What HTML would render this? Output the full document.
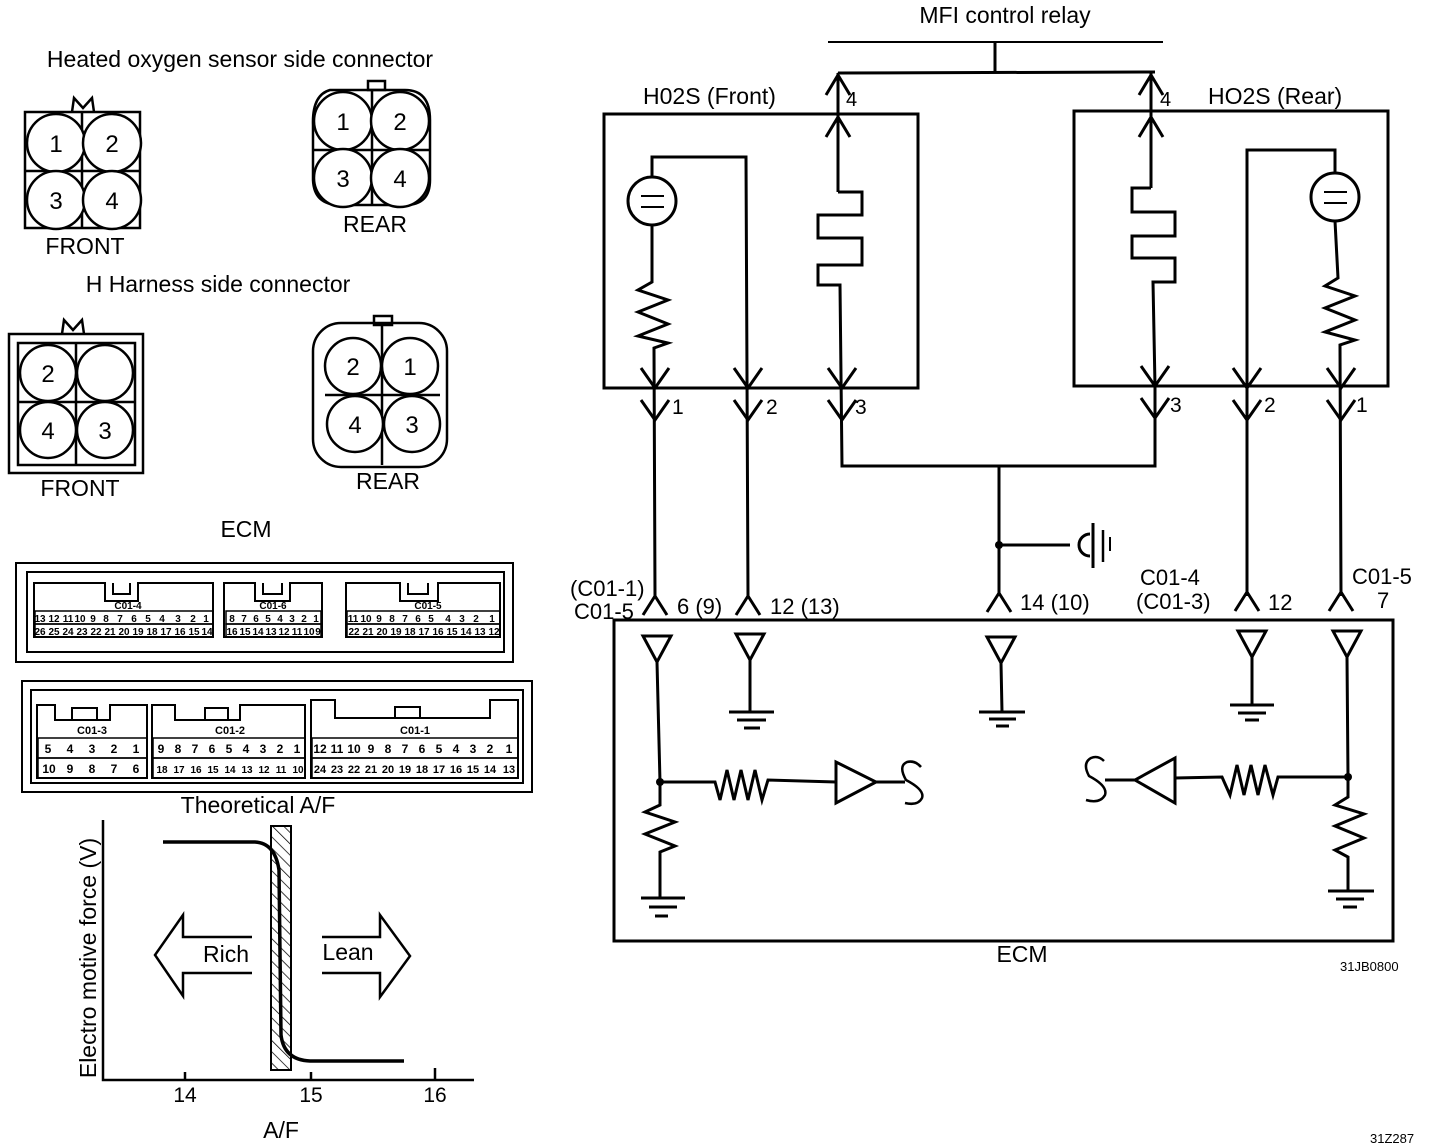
<!DOCTYPE html>
<html><head><meta charset="utf-8"><style>
html,body{margin:0;padding:0;background:#fff}
svg{display:block}
text{font-family:"Liberation Sans",Arial,sans-serif;fill:#000}
</style></head><body>
<svg width="1440" height="1144" viewBox="0 0 1440 1144" xmlns="http://www.w3.org/2000/svg">
<defs>
<pattern id="hatch" width="8" height="8" patternUnits="userSpaceOnUse" patternTransform="rotate(-45)">
<line x1="0" y1="0" x2="0" y2="8" stroke="#000" stroke-width="1.5"/></pattern>
</defs>
<g fill="none" stroke="#000" stroke-width="2.5">
<rect x="25" y="112" width="115" height="116"/>
<line x1="82" y1="112" x2="82" y2="228"/><line x1="25" y1="171" x2="140" y2="171"/>
<circle cx="56" cy="143" r="29" fill="#fff"/><circle cx="112" cy="143" r="29" fill="#fff"/>
<circle cx="56" cy="200" r="29" fill="#fff"/><circle cx="112" cy="200" r="29" fill="#fff"/>
<path d="M72 112 L74 98 L83 108 L92 98 L94 112"/>
<path d="M330 90 Q312 95 313 125 L313 180 Q314 205 340 205 L405 205 Q430 205 430 180 L430 120 Q430 90 405 90 Z"/>
<rect x="368" y="81" width="17" height="9"/>
<line x1="372" y1="90" x2="372" y2="205"/><line x1="313" y1="150" x2="430" y2="150"/>
<circle cx="343" cy="121" r="29" fill="#fff"/><circle cx="400" cy="121" r="29" fill="#fff"/>
<circle cx="343" cy="178" r="29" fill="#fff"/><circle cx="400" cy="178" r="29" fill="#fff"/>
<rect x="9" y="334" width="134" height="139"/>
<rect x="18" y="343" width="117" height="122"/>
<line x1="76" y1="343" x2="76" y2="465"/><line x1="18" y1="402" x2="135" y2="402"/>
<circle cx="48" cy="373" r="28" fill="#fff"/><circle cx="105" cy="373" r="28" fill="#fff"/>
<circle cx="48" cy="430" r="28" fill="#fff"/><circle cx="105" cy="430" r="28" fill="#fff"/>
<path d="M62 334 L64 320 L73 330 L82 320 L84 334"/>
<rect x="313" y="323" width="134" height="144" rx="28"/>
<rect x="374" y="316" width="18" height="9"/>
<line x1="382" y1="325" x2="382" y2="465"/><line x1="325" y1="395" x2="440" y2="395"/>
<circle cx="353" cy="366" r="28" fill="#fff"/><circle cx="410" cy="366" r="28" fill="#fff"/>
<circle cx="355" cy="424" r="28" fill="#fff"/><circle cx="412" cy="424" r="28" fill="#fff"/>
</g>
<g font-size="23">
<text x="240" y="67" text-anchor="middle">Heated oxygen sensor side connector</text>
<text x="56" y="152" text-anchor="middle" font-size="24">1</text><text x="112" y="152" text-anchor="middle" font-size="24">2</text>
<text x="56" y="209" text-anchor="middle" font-size="24">3</text><text x="112" y="209" text-anchor="middle" font-size="24">4</text>
<text x="85" y="254" text-anchor="middle">FRONT</text>
<text x="343" y="130" text-anchor="middle" font-size="24">1</text><text x="400" y="130" text-anchor="middle" font-size="24">2</text>
<text x="343" y="187" text-anchor="middle" font-size="24">3</text><text x="400" y="187" text-anchor="middle" font-size="24">4</text>
<text x="375" y="232" text-anchor="middle">REAR</text>
<text x="218" y="292" text-anchor="middle">H Harness side connector</text>
<text x="48" y="382" text-anchor="middle" font-size="24">2</text>
<text x="48" y="439" text-anchor="middle" font-size="24">4</text><text x="105" y="439" text-anchor="middle" font-size="24">3</text>
<text x="80" y="496" text-anchor="middle">FRONT</text>
<text x="353" y="375" text-anchor="middle" font-size="24">2</text><text x="410" y="375" text-anchor="middle" font-size="24">1</text>
<text x="355" y="433" text-anchor="middle" font-size="24">4</text><text x="412" y="433" text-anchor="middle" font-size="24">3</text>
<text x="388" y="489" text-anchor="middle">REAR</text>
<text x="246" y="537" text-anchor="middle">ECM</text>
</g>
<g fill="none" stroke="#000" stroke-width="2">
<rect x="16" y="563" width="497" height="99"/><rect x="27" y="572" width="477" height="80"/>
<path d="M34 637 L34 583 L105 583 L105 601 L138 601 L138 583 L213 583 L213 637 Z"/>
<path d="M113 583 L113 594 L130 594 L130 583"/>
<path d="M224 637 L224 583 L255 583 L255 601 L290 601 L290 583 L322 583 L322 637 Z"/>
<path d="M263 583 L263 594 L282 594 L282 583"/>
<path d="M346 637 L346 583 L400 583 L400 601 L438 601 L438 583 L500 583 L500 637 Z"/>
<path d="M408 583 L408 594 L428 594 L428 583"/>
<rect x="22" y="681" width="510" height="111"/><rect x="31" y="690" width="492" height="93"/>
<path d="M37 778 L37 705 L55 705 L55 720 L110 720 L110 705 L147 705 L147 778 Z"/>
<path d="M72 720 L72 708 L97 708 L97 720"/>
<path d="M152 778 L152 705 L175 705 L175 720 L240 720 L240 705 L305 705 L305 778 Z"/>
<path d="M205 720 L205 708 L228 708 L228 720"/>
<path d="M311 778 L311 700 L335 700 L335 718 L490 718 L490 700 L518 700 L518 778 Z"/>
<path d="M395 718 L395 707 L420 707 L420 718"/>
</g>
<g stroke="#000" stroke-width="1.5" fill="none">
<rect x="35" y="611" width="178" height="13"/><rect x="35" y="624" width="178" height="13"/>
<rect x="226" y="611" width="95" height="13"/><rect x="226" y="624" width="95" height="13"/>
<rect x="347" y="611" width="153" height="13"/><rect x="347" y="624" width="153" height="13"/>
<rect x="38" y="738" width="109" height="20"/><rect x="38" y="758" width="109" height="20"/>
<rect x="153" y="738" width="152" height="20"/><rect x="153" y="758" width="152" height="20"/>
<rect x="312" y="738" width="206" height="20"/><rect x="312" y="758" width="206" height="20"/>
</g>
<g font-size="10" font-weight="bold" text-anchor="middle">
<text x="128" y="609">C01-4</text><text x="273" y="609">C01-6</text><text x="428" y="609">C01-5</text>
<text x="92" y="734" font-size="11">C01-3</text><text x="230" y="734" font-size="11">C01-2</text><text x="415" y="734" font-size="11">C01-1</text>
</g>
<g font-size="10" text-anchor="middle" font-weight="bold">
<text x="40" y="622">13</text><text x="54" y="622">12</text><text x="68" y="622">11</text><text x="80" y="622">10</text><text x="93" y="622">9</text><text x="106" y="622">8</text><text x="120" y="622">7</text><text x="134" y="622">6</text><text x="148" y="622">5</text><text x="162" y="622">4</text><text x="178" y="622">3</text><text x="193" y="622">2</text><text x="206" y="622">1</text>
<text x="40" y="635">26</text><text x="54" y="635">25</text><text x="68" y="635">24</text><text x="82" y="635">23</text><text x="96" y="635">22</text><text x="110" y="635">21</text><text x="124" y="635">20</text><text x="138" y="635">19</text><text x="152" y="635">18</text><text x="166" y="635">17</text><text x="180" y="635">16</text><text x="194" y="635">15</text><text x="207" y="635">14</text>
<text x="232" y="622">8</text><text x="244" y="622">7</text><text x="256" y="622">6</text><text x="268" y="622">5</text><text x="280" y="622">4</text><text x="292" y="622">3</text><text x="304" y="622">2</text><text x="316" y="622">1</text>
<text x="232" y="635">16</text><text x="245" y="635">15</text><text x="258" y="635">14</text><text x="271" y="635">13</text><text x="284" y="635">12</text><text x="297" y="635">11</text><text x="309" y="635">10</text><text x="318" y="635">9</text>
<text x="353" y="622">11</text><text x="366" y="622">10</text><text x="379" y="622">9</text><text x="392" y="622">8</text><text x="405" y="622">7</text><text x="418" y="622">6</text><text x="431" y="622">5</text><text x="448" y="622">4</text><text x="462" y="622">3</text><text x="476" y="622">2</text><text x="492" y="622">1</text>
<text x="354" y="635">22</text><text x="368" y="635">21</text><text x="382" y="635">20</text><text x="396" y="635">19</text><text x="410" y="635">18</text><text x="424" y="635">17</text><text x="438" y="635">16</text><text x="452" y="635">15</text><text x="466" y="635">14</text><text x="480" y="635">13</text><text x="494" y="635">12</text>
</g>
<g font-size="12" text-anchor="middle" font-weight="bold">
<text x="48" y="753">5</text><text x="70" y="753">4</text><text x="92" y="753">3</text><text x="114" y="753">2</text><text x="136" y="753">1</text>
<text x="49" y="773">10</text><text x="70" y="773">9</text><text x="92" y="773">8</text><text x="114" y="773">7</text><text x="136" y="773">6</text>
<text x="161" y="753">9</text><text x="178" y="753">8</text><text x="195" y="753">7</text><text x="212" y="753">6</text><text x="229" y="753">5</text><text x="246" y="753">4</text><text x="263" y="753">3</text><text x="280" y="753">2</text><text x="297" y="753">1</text>
<text x="162" y="773" font-size="10">18</text><text x="179" y="773" font-size="10">17</text><text x="196" y="773" font-size="10">16</text><text x="213" y="773" font-size="10">15</text><text x="230" y="773" font-size="10">14</text><text x="247" y="773" font-size="10">13</text><text x="264" y="773" font-size="10">12</text><text x="281" y="773" font-size="10">11</text><text x="298" y="773" font-size="10">10</text>
<text x="320" y="753">12</text><text x="337" y="753">11</text><text x="354" y="753">10</text><text x="371" y="753">9</text><text x="388" y="753">8</text><text x="405" y="753">7</text><text x="422" y="753">6</text><text x="439" y="753">5</text><text x="456" y="753">4</text><text x="473" y="753">3</text><text x="490" y="753">2</text><text x="509" y="753">1</text>
<text x="320" y="773" font-size="11">24</text><text x="337" y="773" font-size="11">23</text><text x="354" y="773" font-size="11">22</text><text x="371" y="773" font-size="11">21</text><text x="388" y="773" font-size="11">20</text><text x="405" y="773" font-size="11">19</text><text x="422" y="773" font-size="11">18</text><text x="439" y="773" font-size="11">17</text><text x="456" y="773" font-size="11">16</text><text x="473" y="773" font-size="11">15</text><text x="490" y="773" font-size="11">14</text><text x="509" y="773" font-size="11">13</text>
</g>
<rect x="271" y="826" width="20" height="244" fill="url(#hatch)" stroke="#000" stroke-width="2"/>
<g fill="none" stroke="#000" stroke-width="2.5">
<path d="M103 820 L103 1080 L474 1080"/>
<line x1="185" y1="1072" x2="185" y2="1080"/><line x1="311" y1="1072" x2="311" y2="1080"/><line x1="435" y1="1068" x2="435" y2="1080"/>
<path d="M163 842 L255 842 Q275 843 279 870 L281 1035 Q284 1060 310 1061 L404 1061" stroke-width="3.5"/>
<path d="M252 937 L183 937 L183 915 L155 955 L183 996 L183 973 L252 973"/>
<path d="M322 937 L380 937 L380 915 L410 956 L380 997 L380 973 L322 973"/>
</g>
<g font-size="23">
<text x="258" y="813" text-anchor="middle">Theoretical A/F</text>
<text x="226" y="962" text-anchor="middle">Rich</text>
<text x="348" y="960" text-anchor="middle">Lean</text>
<text x="185" y="1102" text-anchor="middle" font-size="21">14</text><text x="311" y="1102" text-anchor="middle" font-size="21">15</text><text x="435" y="1102" text-anchor="middle" font-size="21">16</text>
<text x="281" y="1138" text-anchor="middle">A/F</text>
<text transform="translate(96,958) rotate(-90)" text-anchor="middle" font-size="23">Electro motive force (V)</text>
</g>
<g fill="none" stroke="#000" stroke-width="3">
<line x1="828" y1="42" x2="1163" y2="42" stroke-width="2"/>
<line x1="995" y1="42" x2="995" y2="72"/>
<line x1="838" y1="73" x2="1155" y2="72"/>
<rect x="604" y="114" width="314" height="274"/>
<rect x="1074" y="111" width="314" height="275"/>
<line x1="838" y1="73" x2="838" y2="192"/>
<path d="M826 95 L838 75 L850 95 M826 137 L838 117 L850 137"/>
<path d="M838 192 L862 192 L862 215 L818 215 L818 238 L862 238 L862 265 L818 265 L818 285 L840 285 L842 466 L1155 466 L1155 386"/>
<circle cx="652" cy="201" r="24"/>
<line x1="641" y1="196" x2="664" y2="196" stroke-width="2"/><line x1="641" y1="207" x2="664" y2="207" stroke-width="2"/>
<path d="M652 177 L652 157 L746 157 L748 596"/>
<path d="M652 225 L652 282 L638 290 L668 300 L638 312 L668 324 L638 336 L668 343 L654 348 L655 596"/>
<path d="M641 368 L655 388 L669 368 M641 400 L655 420 L669 400"/>
<path d="M734 368 L748 388 L762 368 M734 400 L748 420 L762 400"/>
<path d="M828 368 L842 388 L856 368 M828 400 L842 420 L856 400"/>
<line x1="1151" y1="72" x2="1151" y2="188"/>
<path d="M1139 95 L1151 75 L1163 95 M1139 137 L1151 117 L1163 137"/>
<path d="M1151 188 L1132 188 L1132 212 L1175 212 L1175 236 L1132 236 L1132 258 L1175 258 L1175 282 L1153 282 L1155 386"/>
<circle cx="1335" cy="197" r="24"/>
<line x1="1324" y1="192" x2="1347" y2="192" stroke-width="2"/><line x1="1324" y1="203" x2="1347" y2="203" stroke-width="2"/>
<path d="M1335 173 L1335 150 L1247 150 L1247 596"/>
<path d="M1335 221 L1338 278 L1325 286 L1355 296 L1325 308 L1355 320 L1325 332 L1355 340 L1340 345 L1341 596"/>
<path d="M1141 366 L1155 386 L1169 366 M1141 398 L1155 418 L1169 398"/>
<path d="M1233 368 L1247 388 L1261 368 M1233 400 L1247 420 L1261 400"/>
<path d="M1327 368 L1341 388 L1355 368 M1327 400 L1341 420 L1355 400"/>
<line x1="999" y1="466" x2="999" y2="596"/>
<line x1="999" y1="545" x2="1070" y2="545"/>
<path d="M1090 534 A11 11 0 1 0 1090 556"/>
<line x1="1093" y1="523" x2="1093" y2="568"/>
<line x1="1103" y1="530" x2="1103" y2="562" stroke-width="2.5"/>
<line x1="1110" y1="537" x2="1110" y2="551" stroke-width="2"/>
<path d="M643 615 L655 596 L667 615"/>
<path d="M736 615 L748 596 L760 615"/>
<path d="M987 612 L999 593 L1011 612"/>
<path d="M1235 611 L1247 592 L1259 611"/>
<path d="M1329 611 L1341 592 L1353 611"/>
<rect x="614" y="620" width="779" height="321"/>
<path d="M643 636 L671 636 L657 662 Z M657 662 L660 782"/>
<path d="M736 634 L764 634 L750 660 Z M750 660 L750 712 M729 712 L774 712 M737 720 L766 720 M744 728 L760 728"/>
<path d="M987 637 L1015 637 L1001 663 Z M1001 663 L1002 712 M979 712 L1025 712 M989 719 L1016 719 M996 726 L1009 726"/>
<path d="M1238 631 L1266 631 L1252 657 Z M1252 657 L1252 705 M1230 705 L1274 705 M1238 713 L1266 713 M1245 720 L1259 720"/>
<path d="M1333 631 L1361 631 L1347 657 Z M1347 657 L1348 777"/>
<path d="M660 782 L660 805 L645 812 L675 822 L645 834 L675 846 L660 852 L660 898 M641 898 L685 898 M649 907 L677 907 M655 916 L668 916"/>
<path d="M660 782 L715 782 L720 800 L727 770 L734 800 L741 770 L748 800 L755 770 L762 800 L768 780 L836 782"/>
<path d="M836 762 L836 803 L876 782 Z M876 782 L905 782"/>
<path d="M921 767 Q915 760 907 762 Q898 766 906 780 Q925 790 922 798 Q918 806 905 803" stroke-width="2.5"/>
<path d="M1348 777 L1348 797 L1335 805 L1364 814 L1335 826 L1364 838 L1335 850 L1348 857 L1348 890 M1328 891 L1374 891 M1336 899 L1364 899 M1343 907 L1357 907"/>
<path d="M1348 777 L1278 777 L1273 795 L1265 765 L1258 795 L1251 765 L1244 795 L1237 765 L1230 795 L1222 777 L1175 778"/>
<path d="M1175 758 L1175 803 L1135 780 Z M1135 780 L1105 780"/>
<path d="M1104 761 Q1098 755 1091 758 Q1082 763 1089 776 Q1108 786 1105 795 Q1100 804 1086 800" stroke-width="2.5"/>
</g>
<g fill="#000">
<circle cx="999" cy="545" r="4"/><circle cx="660" cy="782" r="4"/><circle cx="1348" cy="777" r="4"/>
</g>
<g font-size="23">
<text x="1005" y="23" text-anchor="middle">MFI control relay</text>
<text x="643" y="104">H02S (Front)</text>
<text x="1208" y="104">HO2S (Rear)</text>
<text x="846" y="106" font-size="20">4</text>
<text x="1160" y="106" font-size="20">4</text>
<text x="672" y="414" font-size="21">1</text><text x="766" y="414" font-size="21">2</text><text x="855" y="414" font-size="21">3</text>
<text x="1170" y="412" font-size="21">3</text><text x="1264" y="412" font-size="21">2</text><text x="1356" y="412" font-size="21">1</text>
<text x="570" y="596" font-size="22">(C01-1)</text>
<text x="574" y="619" font-size="22">C01-5</text>
<text x="677" y="614" font-size="22">6 (9)</text>
<text x="770" y="614" font-size="22">12 (13)</text>
<text x="1020" y="610" font-size="22">14 (10)</text>
<text x="1140" y="585" font-size="22">C01-4</text>
<text x="1136" y="609" font-size="22">(C01-3)</text>
<text x="1268" y="610" font-size="22">12</text>
<text x="1352" y="584" font-size="22">C01-5</text>
<text x="1377" y="608" font-size="22">7</text>
<text x="1022" y="962" text-anchor="middle">ECM</text>
<text x="1340" y="971" font-size="13">31JB0800</text>
<text x="1370" y="1143" font-size="13">31Z287</text>
</g>
</svg>
</body></html>
